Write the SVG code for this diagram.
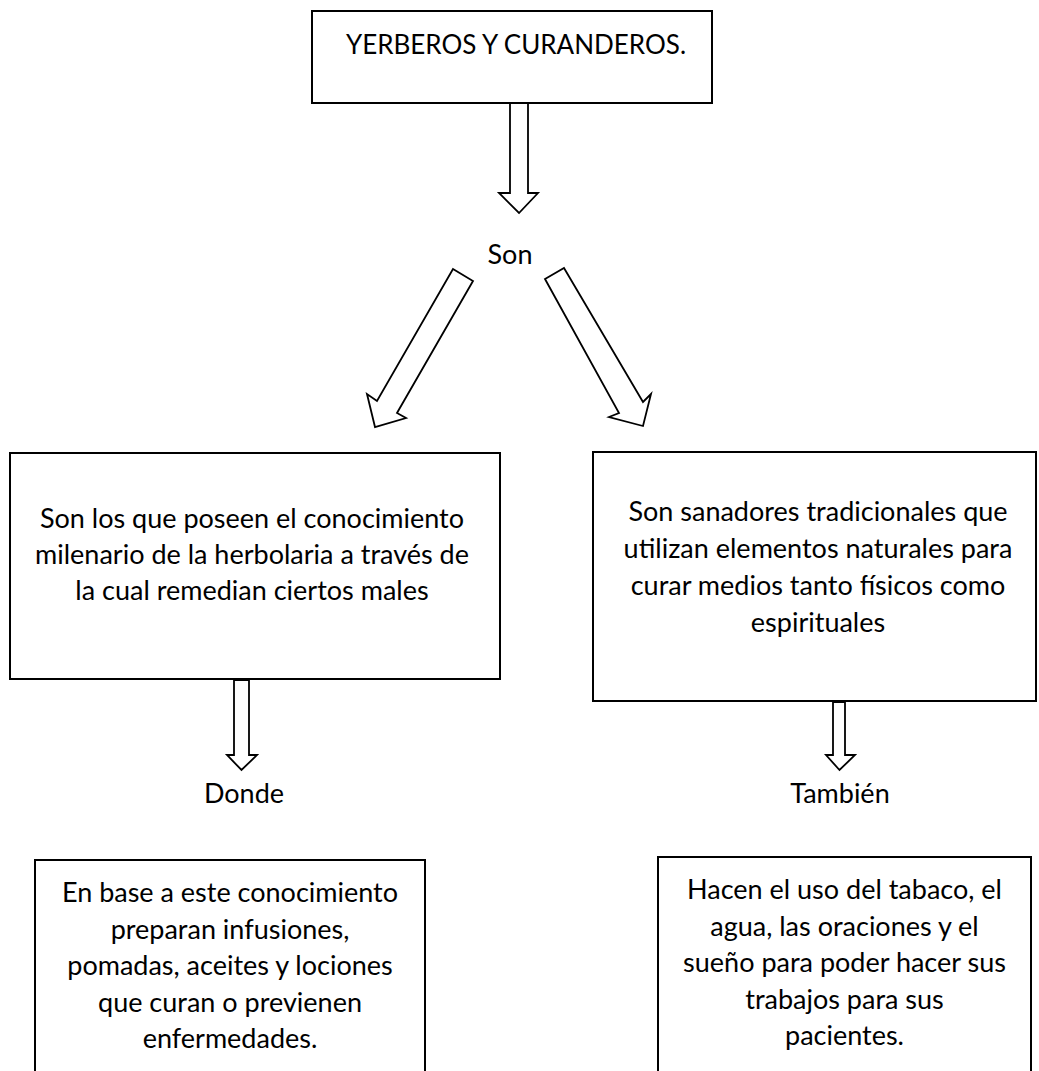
<svg xmlns="http://www.w3.org/2000/svg" width="1039" height="1071" viewBox="0 0 1039 1071">
<style>
.box{fill:#fff;stroke:#000;stroke-width:2}
.arr{fill:#fff;stroke:#000;stroke-width:1.8;stroke-linejoin:miter}
text{font-family:Lato,"Liberation Sans",sans-serif;font-size:27px;fill:#000;text-anchor:middle}
</style>
<rect width="1039" height="1071" fill="#fff"/>
<g id="connectors">
<polygon class="arr" points="510,103 528,103 528,193 538,193 519,213 499,193 510,193"/>
<polygon class="arr" points="453,269 473,281 397,413 406,418 375,427 367,394 377,401"/>
<polygon class="arr" points="545,279 564,268 643,402 651,394 643,426 609,417 619,413"/>
<polygon class="arr" points="234,680 249,680 249,755 257,755 241.5,770 227,755 234,755"/>
<polygon class="arr" points="833,702 845,702 845,755 855,755 839.5,770 826,755 833,755"/>
</g>
<g id="node-title">
<rect class="box" x="312" y="11" width="400" height="92"/>
<text x="516" y="54" style="font-size:26px">YERBEROS Y CURANDEROS.</text>
</g>
<g id="label-son"><text x="510" y="264">Son</text></g>
<g id="node-left">
<rect class="box" x="10" y="453" width="490" height="226"/>
<text x="252" y="528">Son los que poseen el conocimiento</text>
<text x="252" y="564">milenario de la herbolaria a través de</text>
<text x="252" y="600">la cual remedian ciertos males</text>
</g>
<g id="node-right">
<rect class="box" x="593" y="452" width="443" height="249"/>
<text x="818" y="521">Son sanadores tradicionales que</text>
<text x="818" y="558">utilizan elementos naturales para</text>
<text x="818" y="595">curar medios tanto físicos como</text>
<text x="818" y="632">espirituales</text>
</g>
<g id="label-donde"><text x="244" y="803">Donde</text></g>
<g id="label-tambien"><text x="840" y="803">También</text></g>
<g id="node-bottom-left">
<rect class="box" x="35" y="860" width="390" height="230"/>
<text x="230" y="902">En base a este conocimiento</text>
<text x="230" y="938.5">preparan infusiones,</text>
<text x="230" y="975">pomadas, aceites y lociones</text>
<text x="230" y="1011.5">que curan o previenen</text>
<text x="230" y="1048">enfermedades.</text>
</g>
<g id="node-bottom-right">
<rect class="box" x="658" y="857" width="373" height="230"/>
<text x="844.5" y="899">Hacen el uso del tabaco, el</text>
<text x="844.5" y="935.5">agua, las oraciones y el</text>
<text x="844.5" y="972">sueño para poder hacer sus</text>
<text x="844.5" y="1008.5">trabajos para sus</text>
<text x="844.5" y="1045">pacientes.</text>
</g>
</svg>
